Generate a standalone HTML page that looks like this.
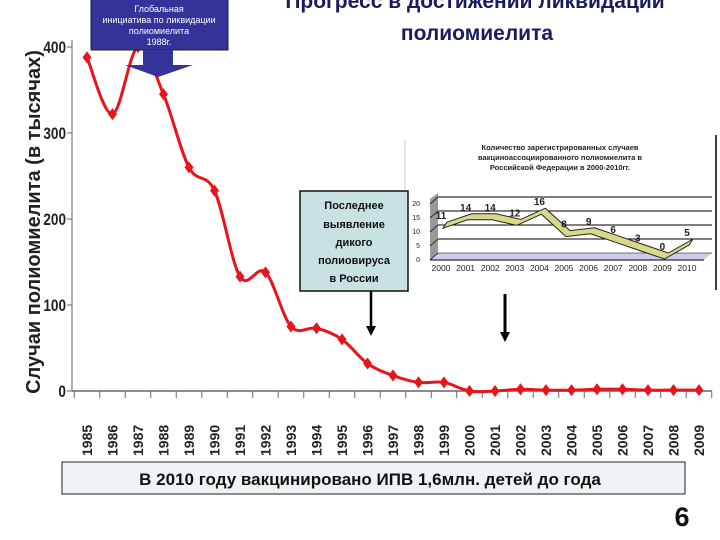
<!DOCTYPE html>
<html><head><meta charset="utf-8">
<style>
body{margin:0;background:#fff;}
#wrap{position:relative;width:720px;height:540px;overflow:hidden;font-family:"Liberation Sans",sans-serif;}
</style></head>
<body>
<div id="wrap">
<svg id="main" width="720" height="540" style="position:absolute;left:0;top:0">
  <text x="475" y="8" text-anchor="middle" font-size="21" font-weight="bold" fill="#1a1a5e">Прогресс в достижении ликвидации</text>
  <text x="477" y="40" text-anchor="middle" font-size="21" font-weight="bold" fill="#1a1a5e">полиомиелита</text>
  <text transform="translate(40,222) rotate(-90)" text-anchor="middle" font-size="20" font-weight="bold" fill="#222">Случаи полиомиелита (в тысячах)</text>
  <g id="axes"></g>
  <g id="series"></g>
  <g>
    <line x1="405" y1="140" x2="405" y2="290" stroke="#ccc"/>
    <line x1="716" y1="135" x2="716" y2="290" stroke="#000" stroke-width="1.5"/>
    <text x="560" y="150" text-anchor="middle" font-size="7.5" font-weight="bold" fill="#222">Количество зарегистрированных случаев</text>
    <text x="560" y="160" text-anchor="middle" font-size="7.5" font-weight="bold" fill="#222">вакциноассоциированного полиомиелита в</text>
    <text x="560" y="170" text-anchor="middle" font-size="7.5" font-weight="bold" fill="#222">Российской Федерации в 2000-2010гг.</text>
    <g id="inset"></g>
  </g>
  <g>
    <rect x="91" y="-2" width="137" height="52" fill="#333399" stroke="#222" stroke-width="1"/>
    <polygon points="143,50 173,50 173,65 193,65 158,77 125,65 143,65" fill="#333399"/>
    <text x="159" y="12" text-anchor="middle" font-size="9" fill="#fff">Глобальная</text>
    <text x="159" y="23" text-anchor="middle" font-size="9" fill="#fff">инициатива по ликвидации</text>
    <text x="159" y="34" text-anchor="middle" font-size="9" fill="#fff">полиомиелита</text>
    <text x="159" y="45" text-anchor="middle" font-size="9" fill="#fff">1988г.</text>
  </g>
  <g>
    <rect x="300" y="191" width="108" height="100" fill="#c8e2e2" stroke="#111" stroke-width="1.5"/>
    <text x="354" y="209" text-anchor="middle" font-size="11" font-weight="bold" fill="#111">Последнее</text>
    <text x="354" y="228" text-anchor="middle" font-size="11" font-weight="bold" fill="#111">выявление</text>
    <text x="354" y="246" text-anchor="middle" font-size="11" font-weight="bold" fill="#111">дикого</text>
    <text x="354" y="264" text-anchor="middle" font-size="11" font-weight="bold" fill="#111">полиовируса</text>
    <text x="354" y="282" text-anchor="middle" font-size="11" font-weight="bold" fill="#111">в России</text>
    <line x1="371" y1="291" x2="371" y2="328" stroke="#000" stroke-width="2.5"/>
    <polygon points="366,326 376,326 371,336" fill="#000"/>
  </g>
  <g>
    <line x1="505" y1="294" x2="505" y2="334" stroke="#000" stroke-width="3"/>
    <polygon points="500,332 510,332 505,342" fill="#000"/>
  </g>
  <rect x="62" y="462" width="623" height="32" fill="#eef4f6" stroke="#222" stroke-width="1"/>
  <text x="370" y="485" text-anchor="middle" font-size="17" font-weight="bold" fill="#111">В 2010 году вакцинировано ИПВ 1,6млн. детей до года</text>
  <text x="682" y="526" text-anchor="middle" font-size="27" font-weight="bold" fill="#111">6</text>
</svg>
</div>
<script>
const years = ["1985","1986","1987","1988","1989","1990","1991","1992","1993","1994","1995","1996","1997","1998","1999","2000","2001","2002","2003","2004","2005","2006","2007","2008","2009"];
const cases = [388,322,400,345,260,233,133,138,75,73,60,32,18,10,10,0,0,2,1,1,2,2,1,1,1];
const yTicks = [0,100,200,300,400];
const insetYears = ["2000","2001","2002","2003","2004","2005","2006","2007","2008","2009","2010"];
const insetCases = [11,14,14,12,16,8,9,6,3,0,5];
const insetTicks = [0,5,10,15,20];

const NS="http://www.w3.org/2000/svg";
function mk(tag,attrs,parent){const e=document.createElementNS(NS,tag);for(const k in attrs)e.setAttribute(k,attrs[k]);parent.appendChild(e);return e;}
const xS=i=>87+i*25.5;
const yS=v=>391-0.86*v;
const axesG=document.getElementById('axes'), seriesG=document.getElementById('series');
let a=mk('line',{x1:72,y1:40,x2:72,y2:391,stroke:'#666','stroke-width':1},axesG);


a=mk('line',{x1:72,y1:391,x2:712,y2:391,stroke:'#666','stroke-width':1.5},axesG);


yTicks.forEach(t=>{
  mk('line',{x1:67,y1:yS(t),x2:72,y2:yS(t),stroke:'#666'},axesG);
  const tx=mk('text',{x:0,y:0,'text-anchor':'end','font-size':17,'font-weight':'bold',fill:'#222',transform:`translate(66,${yS(t)+6}) scale(0.8,1)`},axesG);
  tx.textContent=t;
  
  
});
for(let i=0;i<=years.length;i++){const x=xS(i)-12.75;mk('line',{x1:x,y1:391,x2:x,y2:398,stroke:'#666'},axesG);}
years.forEach((y,i)=>{
  const tx=mk('text',{transform:`translate(${xS(i)+5},456) rotate(-90)`,'font-size':14,'font-weight':'bold',fill:'#222'},axesG);
  tx.textContent=y;
  
  
});
const P=cases.map((v,i)=>[xS(i),yS(v)]);
let d=`M${P[0][0]},${P[0][1]}`;
for(let i=0;i<P.length-1;i++){const p0=P[i-1]||P[i],p1=P[i],p2=P[i+1],p3=P[i+2]||P[i+1];
 const c1=[p1[0]+(p2[0]-p0[0])/6,p1[1]+(p2[1]-p0[1])/6],c2=[p2[0]-(p3[0]-p1[0])/6,p2[1]-(p3[1]-p1[1])/6];
 d+=` C${c1[0]},${c1[1]} ${c2[0]},${c2[1]} ${p2[0]},${p2[1]}`;}
const ln=mk('path',{d,fill:'none',stroke:'#e8141c','stroke-width':3},seriesG);


P.forEach(p=>{
  const m=mk('polygon',{points:`${p[0]},${p[1]-6} ${p[0]+4.5},${p[1]} ${p[0]},${p[1]+6} ${p[0]-4.5},${p[1]}`,fill:'#e8141c'},seriesG);
  
  
});
const ig=document.getElementById('inset');
const ix=i=>447+i*24.6, iy=v=>253-2.8*v;
mk('polygon',{points:'430,199 438,193 438,253 430,260',fill:'#999'},ig);
mk('polygon',{points:'430,260 438,253 712,253 704,260',fill:'#ccccf0'},ig);
insetTicks.forEach(t=>{
  mk('line',{x1:438,y1:iy(t),x2:712,y2:iy(t),stroke:'#000','stroke-width':t?1:0.5},ig);
  mk('line',{x1:430,y1:iy(t)+7,x2:438,y2:iy(t),stroke:'#000','stroke-width':0.7},ig);
  const tx=mk('text',{x:420,y:iy(t)+9,'text-anchor':'end','font-size':7,fill:'#222'},ig);
  tx.textContent=t;
  
  
});
mk('line',{x1:430,y1:260,x2:704,y2:260,stroke:'#000'},ig);
const ribTop=insetCases.map((v,i)=>[ix(i),iy(v)]);
const ribBot=ribTop.map(p=>[p[0]-4,p[1]+6]).reverse();
const rib=mk('polygon',{points:ribTop.concat(ribBot).map(p=>p.join(',')).join(' '),fill:'#d8d88a',stroke:'#222','stroke-width':1},ig);


insetCases.forEach((v,i)=>{
  const tx=mk('text',{x:ix(i)-6,y:iy(v)-3,'text-anchor':'middle','font-size':10,'font-weight':'bold',fill:'#222'},ig);
  tx.textContent=v;
  
  
});
insetYears.forEach((y,i)=>{
  const tx=mk('text',{x:ix(i)-6,y:271,'text-anchor':'middle','font-size':8.5,fill:'#222'},ig);
  tx.textContent=y;
  
  
});
</script>
</body></html>
